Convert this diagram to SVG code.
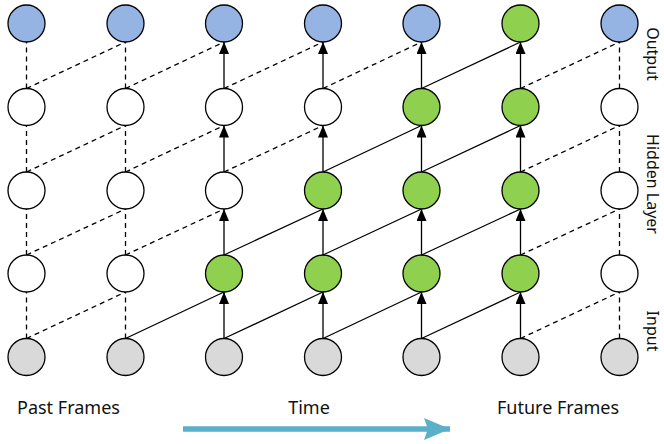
<svg xmlns="http://www.w3.org/2000/svg" width="664" height="444" viewBox="0 0 664 444">
<style>
.n{stroke:#000;stroke-width:1.3}
.out{fill:#95b3e3}
.hid{fill:#fff}
.act{fill:#8fd14f}
.inp{fill:#d9d9d9}
.s{stroke:#000;stroke-width:1.3;fill:none}
.d{stroke:#000;stroke-width:1.3;fill:none;stroke-dasharray:5 4}
.a{marker-end:url(#ah)}
text{font-family:"Noto Sans","Open Sans",sans-serif;fill:#111}
.lb{font-size:18px}
.rl{font-size:16px;text-anchor:middle}
</style>
<defs>
<marker id="ah" markerUnits="userSpaceOnUse" viewBox="0 0 12 10" markerWidth="12" markerHeight="10" refX="12" refY="5" orient="auto">
<path d="M0,0 L12,5 L0,10 z" fill="#000"/>
</marker>
<marker id="ta" markerUnits="userSpaceOnUse" viewBox="0 0 26 22" markerWidth="26" markerHeight="22" refX="26" refY="11" orient="auto">
<path d="M0,0 L26,11 L0,22 L4,11 z" fill="#5aafc9"/>
</marker>
</defs>
<g id="connectors">
<!-- dashed verticals cols 0,1,6 -->
<path class="d" d="M26.5,88.5V42 M26.5,172V125.5 M26.5,255V209 M26.5,338.5V292"/>
<path class="d" d="M125.5,88.5V42 M125.5,172V125.5 M125.5,255V209 M125.5,338.5V292"/>
<path class="d" d="M619.5,88.5V42 M619.5,172V125.5 M619.5,255V209 M619.5,338.5V292"/>
<!-- solid verticals with arrows cols 2..5 -->
<path class="s a" d="M224,88.5V42"/><path class="s a" d="M224,172V125.5"/><path class="s a" d="M224,255V209"/><path class="s a" d="M224,338.5V292"/>
<path class="s a" d="M323,88.5V42"/><path class="s a" d="M323,172V125.5"/><path class="s a" d="M323,255V209"/><path class="s a" d="M323,338.5V292"/>
<path class="s a" d="M421.5,88.5V42"/><path class="s a" d="M421.5,172V125.5"/><path class="s a" d="M421.5,255V209"/><path class="s a" d="M421.5,338.5V292"/>
<path class="s a" d="M520.5,88.5V42"/><path class="s a" d="M520.5,172V125.5"/><path class="s a" d="M520.5,255V209"/><path class="s a" d="M520.5,338.5V292"/>
<!-- diagonals row1->row0 -->
<path class="d" d="M26.5,88.5L125.5,42 M125.5,88.5L224,42 M224,88.5L323,42 M323,88.5L421.5,42 M520.5,88.5L619.5,42"/>
<path class="s" d="M421.5,88.5L520.5,42"/>
<!-- diagonals row2->row1 -->
<path class="d" d="M26.5,172L125.5,125.5 M125.5,172L224,125.5 M224,172L323,125.5 M520.5,172L619.5,125.5"/>
<path class="s" d="M323,172L421.5,125.5 M421.5,172L520.5,125.5"/>
<!-- diagonals row3->row2 -->
<path class="d" d="M26.5,255L125.5,209 M125.5,255L224,209 M520.5,255L619.5,209"/>
<path class="s" d="M224,255L323,209 M323,255L421.5,209 M421.5,255L520.5,209"/>
<!-- diagonals input->row3 -->
<path class="d" d="M26.5,338.5L125.5,292 M520.5,338.5L619.5,292"/>
<path class="s" d="M125.5,338.5L224,292 M224,338.5L323,292 M323,338.5L421.5,292 M421.5,338.5L520.5,292"/>
<!-- time arrow -->
<path d="M183,429H450" stroke="#5aafc9" stroke-width="5.5" fill="none" marker-end="url(#ta)"/>
</g>
<g id="output">
<circle id="o0" class="n out" cx="26.5" cy="23.5" r="18.5"/>
<circle id="o1" class="n out" cx="125.5" cy="23.5" r="18.5"/>
<circle id="o2" class="n out" cx="224" cy="23.5" r="18.5"/>
<circle id="o3" class="n out" cx="323" cy="23.5" r="18.5"/>
<circle id="o4" class="n out" cx="421.5" cy="23.5" r="18.5"/>
<circle id="o5" class="n act" cx="520.5" cy="23.5" r="18.5"/>
<circle id="o6" class="n out" cx="619.5" cy="23.5" r="18.5"/>
</g>
<g id="hidden1">
<circle id="h1_0" class="n hid" cx="26.5" cy="107" r="18.5"/>
<circle id="h1_1" class="n hid" cx="125.5" cy="107" r="18.5"/>
<circle id="h1_2" class="n hid" cx="224" cy="107" r="18.5"/>
<circle id="h1_3" class="n hid" cx="323" cy="107" r="18.5"/>
<circle id="h1_4" class="n act" cx="421.5" cy="107" r="18.5"/>
<circle id="h1_5" class="n act" cx="520.5" cy="107" r="18.5"/>
<circle id="h1_6" class="n hid" cx="619.5" cy="107" r="18.5"/>
</g>
<g id="hidden2">
<circle id="h2_0" class="n hid" cx="26.5" cy="190.5" r="18.5"/>
<circle id="h2_1" class="n hid" cx="125.5" cy="190.5" r="18.5"/>
<circle id="h2_2" class="n hid" cx="224" cy="190.5" r="18.5"/>
<circle id="h2_3" class="n act" cx="323" cy="190.5" r="18.5"/>
<circle id="h2_4" class="n act" cx="421.5" cy="190.5" r="18.5"/>
<circle id="h2_5" class="n act" cx="520.5" cy="190.5" r="18.5"/>
<circle id="h2_6" class="n hid" cx="619.5" cy="190.5" r="18.5"/>
</g>
<g id="hidden3">
<circle id="h3_0" class="n hid" cx="26.5" cy="273.5" r="18.5"/>
<circle id="h3_1" class="n hid" cx="125.5" cy="273.5" r="18.5"/>
<circle id="h3_2" class="n act" cx="224" cy="273.5" r="18.5"/>
<circle id="h3_3" class="n act" cx="323" cy="273.5" r="18.5"/>
<circle id="h3_4" class="n act" cx="421.5" cy="273.5" r="18.5"/>
<circle id="h3_5" class="n act" cx="520.5" cy="273.5" r="18.5"/>
<circle id="h3_6" class="n hid" cx="619.5" cy="273.5" r="18.5"/>
</g>
<g id="input">
<circle id="i0" class="n inp" cx="26.5" cy="357" r="18.5"/>
<circle id="i1" class="n inp" cx="125.5" cy="357" r="18.5"/>
<circle id="i2" class="n inp" cx="224" cy="357" r="18.5"/>
<circle id="i3" class="n inp" cx="323" cy="357" r="18.5"/>
<circle id="i4" class="n inp" cx="421.5" cy="357" r="18.5"/>
<circle id="i5" class="n inp" cx="520.5" cy="357" r="18.5"/>
<circle id="i6" class="n inp" cx="619.5" cy="357" r="18.5"/>
</g>
<g id="labels">
<text class="rl" transform="translate(647,54) rotate(90)">Output</text>
<text class="rl" transform="translate(647,184) rotate(90)">Hidden Layer</text>
<text class="rl" transform="translate(647,331) rotate(90)">Input</text>
<text class="lb" x="17" y="414">Past Frames</text>
<text class="lb" x="309" y="414" text-anchor="middle">Time</text>
<text class="lb" x="497" y="414">Future Frames</text>
</g>
</svg>
